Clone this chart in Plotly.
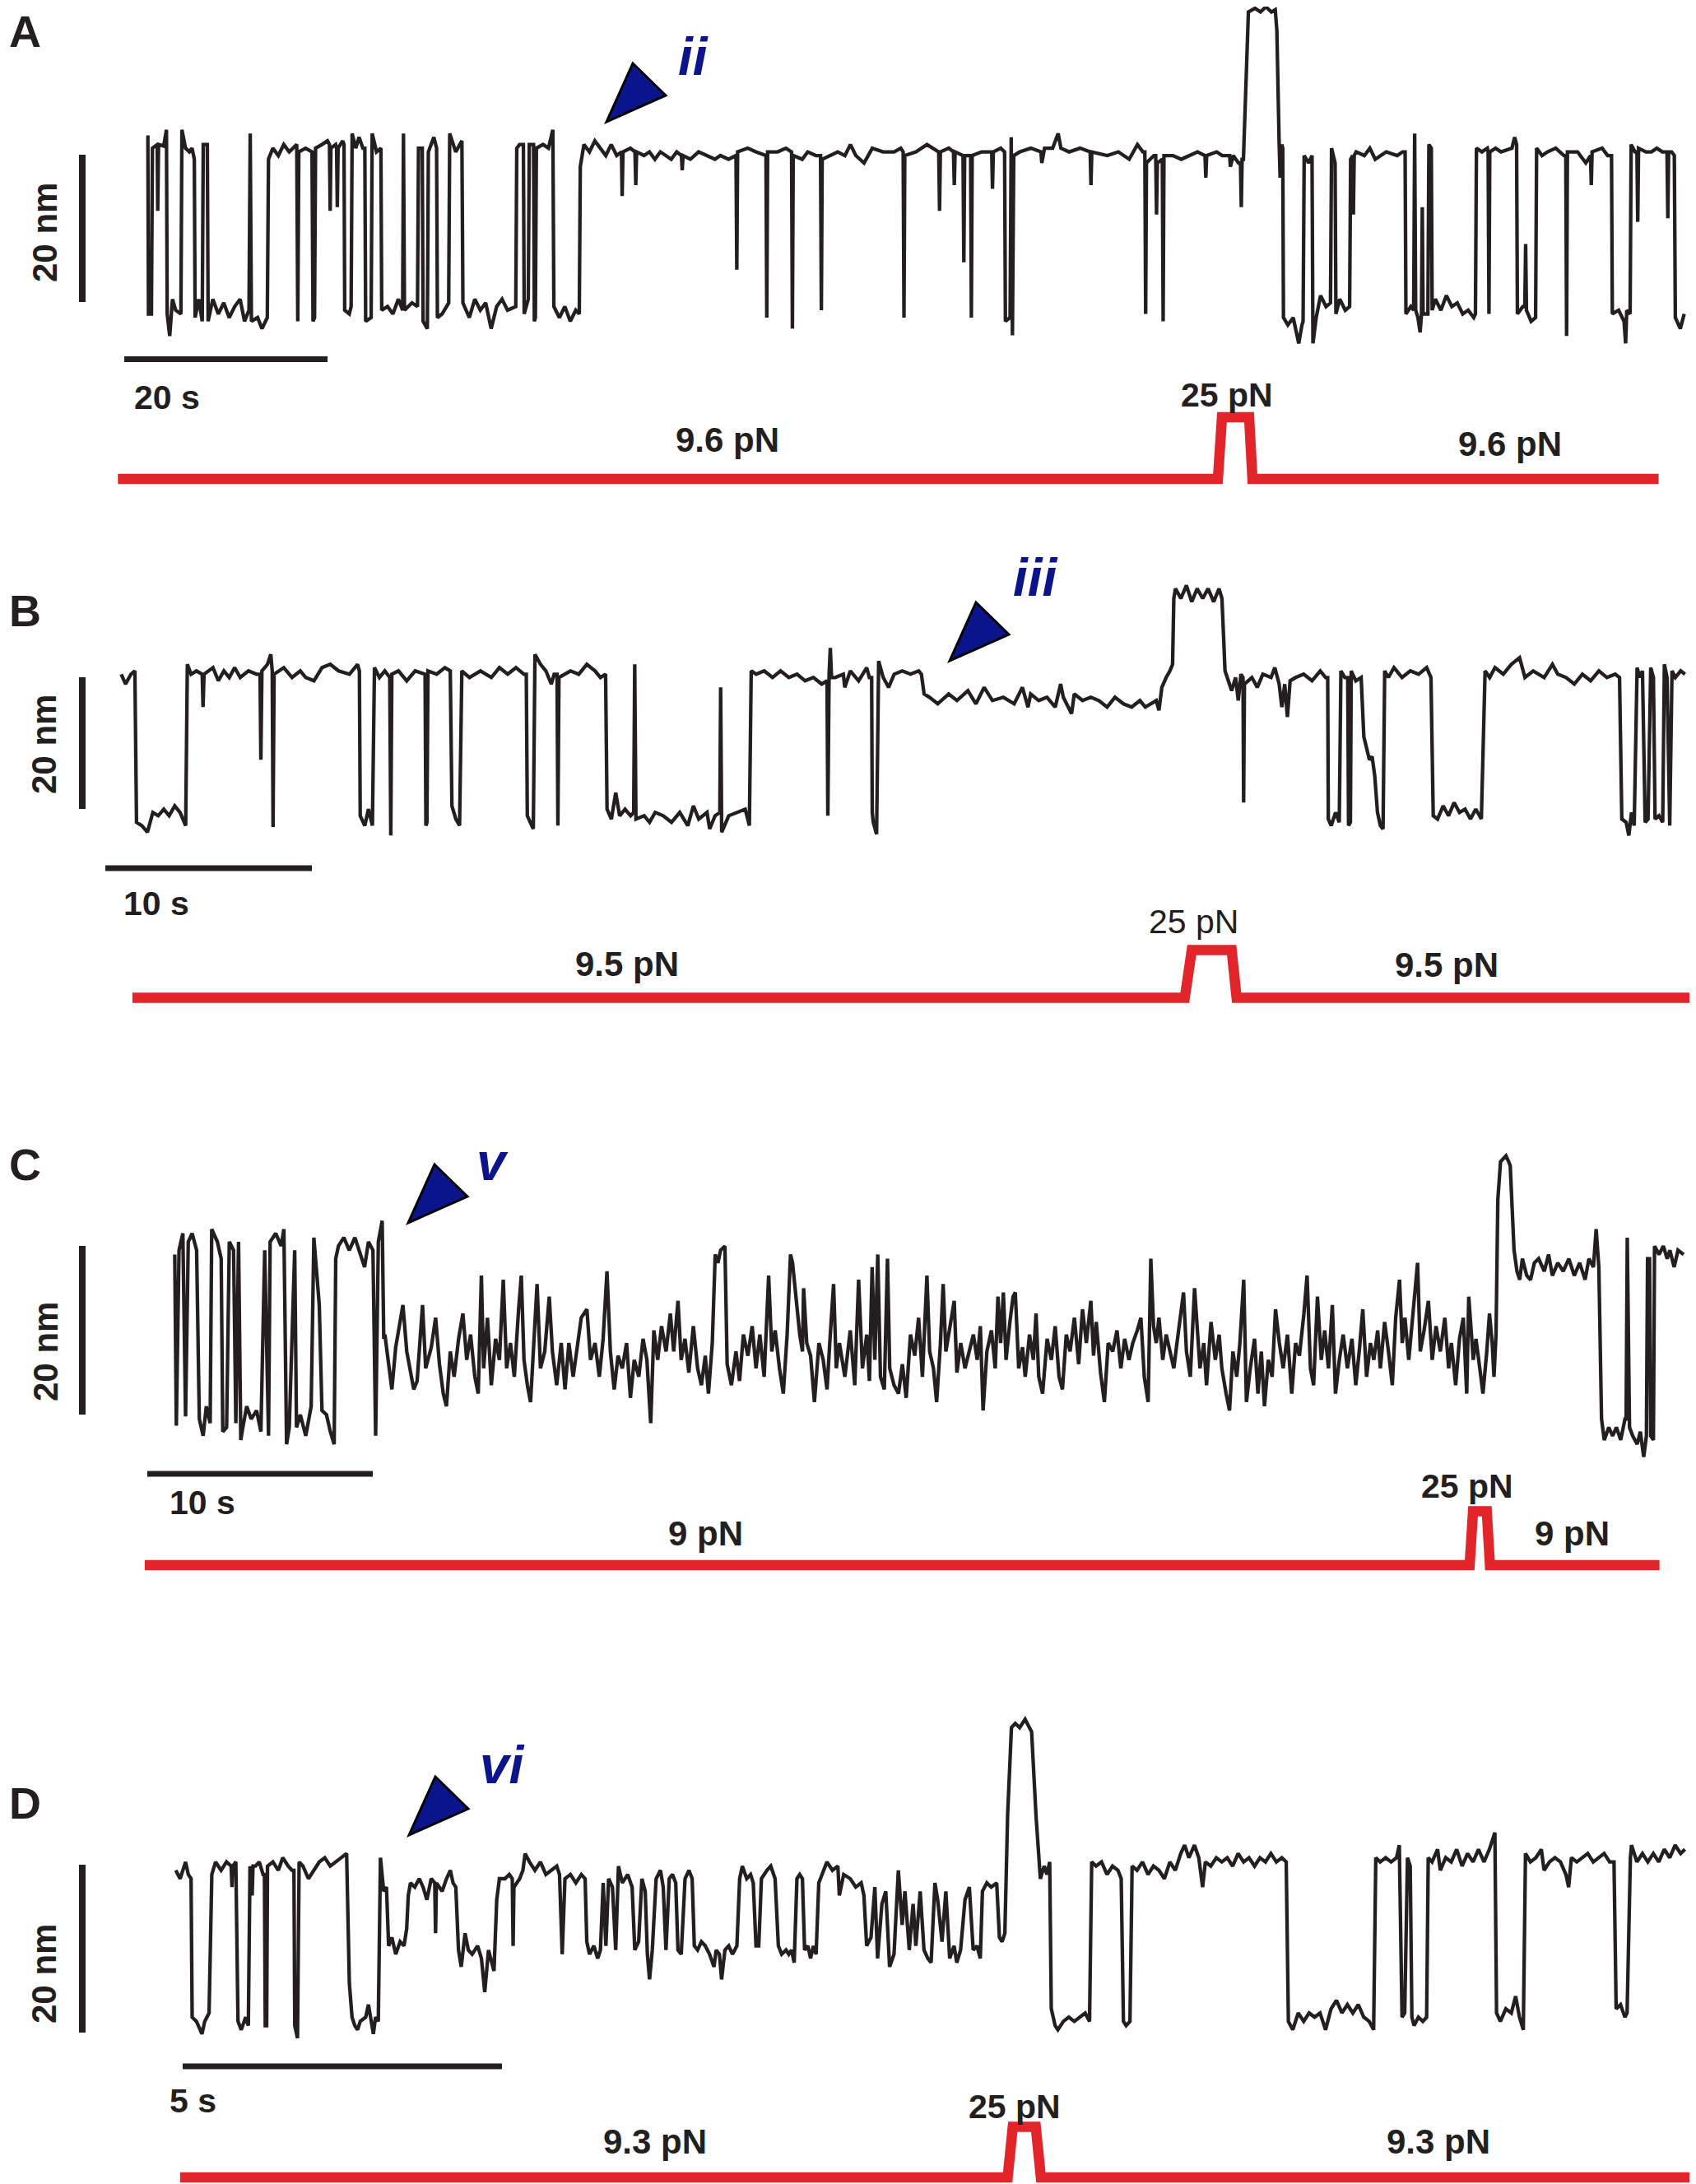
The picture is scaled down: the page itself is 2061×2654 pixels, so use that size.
import plotly.graph_objects as go

W, H = 2061, 2654
OFF = 8  # the page body margin shifts the figure by this many pixels
FONT = "Liberation Sans, Arial, Helvetica, sans-serif"
INK = "#231f20"
RED = "#e2252b"
NAVY = "#0c148c"

# extension traces: (time s, extension nm)
trace_a = [
    (14.39, 23.5), (14.55, 23.5), (14.61, -0.5), (14.90, -0.5), (15.00, 22.0), (15.47, 22.5), (15.52, 13.5),
    (15.60, 22.5), (16.11, 22.3), (16.38, 24.5), (16.45, -0.5), (16.70, -3.5), (16.97, 1.5), (17.29, 0.0),
    (17.80, -0.5), (17.90, 24.5), (18.26, 22.0), (18.63, 21.5), (18.90, 22.0), (19.12, 20.5), (19.20, -1.0),
    (19.55, 1.5), (19.90, -1.5), (20.00, 22.5), (20.40, 22.5), (20.48, -1.5), (20.94, 1.5), (21.48, -0.5),
    (22.02, 1.0), (22.55, -1.0), (23.09, 0.5), (23.63, 1.5), (24.06, -1.5), (24.50, 0.0), (24.62, 24.0),
    (24.74, -1.5), (25.35, -1.0), (25.78, -2.5), (26.30, -1.0), (26.42, 20.5), (26.85, 22.0), (27.39, 21.0),
    (27.92, 22.5), (28.46, 21.5), (29.20, 22.5), (29.30, -1.5), (29.40, 21.5), (30.07, 22.0), (30.70, 21.5),
    (30.80, -1.5), (30.95, -1.0), (31.05, 22.0), (31.68, 22.5), (32.22, 23.0), (32.42, 22.5), (32.49, 13.5),
    (32.56, 22.0), (33.03, 22.5), (33.12, 22.0), (33.19, 14.0), (33.27, 22.0), (33.72, 23.0), (33.85, 22.5),
    (33.92, 0.0), (34.37, -0.5), (34.55, 0.5), (34.65, 24.0), (35.01, 22.0), (35.33, 23.5), (35.71, 22.0),
    (35.90, 22.0), (35.98, -1.5), (36.52, -1.0), (36.62, 24.0), (37.05, 21.5), (37.48, 22.0), (37.56, 0.0),
    (38.13, 0.5), (38.66, -0.5), (39.20, 1.5), (39.62, 0.0), (39.70, 24.0), (39.80, 0.0), (40.54, 1.0),
    (41.08, 0.5), (41.18, 22.0), (41.55, 22.0), (41.63, -1.5), (42.05, -2.5), (42.15, 21.5), (42.69, 23.5),
    (42.96, 22.0), (43.04, -1.0), (43.50, -0.5), (44.15, 1.0), (44.25, 24.0), (44.84, 21.5), (45.45, 23.0),
    (45.55, 1.0), (46.18, -1.0), (46.72, 1.5), (47.26, 0.0), (47.79, 1.0), (48.33, -2.5), (48.87, 0.5),
    (49.40, 1.5), (49.94, 0.0), (50.75, 0.5), (50.85, 22.0), (51.12, 22.5), (51.50, 22.5), (51.58, -0.5),
    (51.98, 1.5), (52.08, 22.5), (52.50, 22.5), (52.58, -1.5), (52.68, -1.0), (52.78, 22.0), (53.43, 22.5),
    (53.97, 22.0), (54.40, 24.5), (54.50, 0.5), (55.04, -1.0), (55.58, 0.5), (56.12, -1.5), (56.65, 0.0),
    (57.00, -0.5), (57.10, 19.5), (57.46, 22.5), (58.00, 21.5), (58.53, 23.0), (59.07, 22.0), (59.61, 21.0),
    (60.14, 22.5), (60.68, 21.0), (61.15, 21.5), (61.22, 15.5), (61.30, 21.5), (62.02, 22.0), (62.48, 21.5),
    (62.56, 17.0), (62.64, 21.5), (63.37, 21.0), (63.90, 21.5), (64.44, 20.5), (64.98, 21.5), (65.51, 21.0),
    (66.05, 20.5), (66.59, 21.5), (67.05, 21.0), (67.13, 19.0), (67.21, 21.0), (67.93, 20.5), (68.74, 21.5),
    (69.54, 21.0), (70.35, 20.5), (70.88, 21.0), (71.69, 20.5), (72.42, 21.0), (72.50, 5.5), (72.58, 21.5),
    (73.57, 22.0), (74.37, 21.5), (75.18, 21.0), (75.37, 21.0), (75.45, -1.0), (75.53, 21.5), (76.52, 21.5),
    (77.33, 22.0), (77.89, 21.5), (77.97, -2.5), (78.05, 21.0), (78.94, 20.5), (79.48, 21.5), (80.28, 21.0),
    (80.74, 21.0), (80.82, 0.0), (80.90, 20.5), (81.62, 21.0), (82.43, 21.5),
    (83.14, 21.0), (83.68, 22.5), (84.21, 21.0), (85.02, 20.0), (85.83, 22.0), (86.90, 21.5), (87.98, 21.5),
    (88.63, 22.0), (88.87, 21.5), (88.95, -1.0), (89.03, 21.0), (90.13, 21.5), (91.21, 22.5), (92.37, 21.5),
    (92.45, 13.5), (92.53, 21.5), (93.36, 22.0), (93.82, 21.5), (93.90, 17.0), (93.98, 21.5), (94.76, 21.0),
    (94.84, 6.5), (94.92, 21.0), (95.51, 21.0), (95.58, -1.0), (95.66, 21.0), (96.59, 21.5), (97.58, 21.5),
    (97.66, 16.5), (97.74, 21.5), (98.47, 22.0), (98.85, 21.5), (98.93, -1.5), (99.39, -1.0), (99.50, 23.5),
    (99.62, -3.4), (99.75, 21.0), (100.35, 21.5), (101.43, 22.0), (102.43, 21.5), (102.51, 20.0), (102.78, 22.0),
    (103.58, 22.0), (104.12, 24.0), (104.39, 22.0), (105.20, 21.5), (106.27, 22.0), (107.27, 21.5), (107.35, 17.0),
    (107.43, 21.5), (108.96, 21.0), (110.04, 21.5), (111.11, 20.5), (111.92, 22.5), (112.46, 21.5), (112.65, 21.5),
    (112.73, -0.5), (112.81, 20.0), (113.54, 21.0), (113.72, 21.0), (113.80, 13.0), (113.88, 20.0), (114.37, 20.5),
    (114.45, -1.5), (114.53, 21.0), (115.42, 21.0), (116.23, 20.5), (117.03, 21.0), (117.84, 21.5), (118.57, 21.0),
    (118.65, 18.0), (118.73, 21.0), (119.72, 21.5), (120.26, 21.0), (120.99, 21.0), (121.07, 19.5), (121.34, 21.0),
    (121.87, 20.0), (122.06, 20.0), (122.14, 14.0), (122.22, 20.5), (122.35, 20.5), (122.47, 25.0), (122.84, 40.5),
    (123.49, 41.0), (124.03, 40.5), (124.56, 41.2), (125.10, 40.5), (125.48, 40.8), (125.64, 38.0), (125.86, 23.0),
    (125.96, 18.0), (126.12, 22.5), (126.22, 22.0), (126.29, -1.0), (126.72, -2.0), (127.25, -1.0), (127.79, -4.5),
    (128.11, -2.0), (128.22, -1.5), (128.33, 21.0), (128.76, 20.0), (129.10, 21.0), (129.19, -4.5), (129.51, -1.0),
    (129.94, 2.0), (130.48, 0.5), (130.92, 1.0), (131.02, 22.0), (131.29, 20.0), (131.37, 20.0), (131.45, -0.5),
    (131.83, 1.5), (132.37, 0.0), (132.80, 0.5), (132.90, 20.5), (133.10, 21.0), (133.17, 13.0), (133.25, 21.0),
    (133.44, 21.5), (134.25, 21.0), (134.79, 22.0), (135.32, 20.5), (136.40, 21.5), (137.48, 21.0), (138.01, 21.5),
    (138.26, 21.5), (138.34, -0.5), (138.82, 0.5), (139.10, 0.0), (139.20, 24.0), (139.30, 0.0), (139.52, -1.0),
    (139.74, -3.0), (139.87, -0.5), (139.95, 14.0), (140.03, -0.5), (140.50, -0.5), (140.60, 22.5), (140.84, 22.0),
    (140.92, 0.0), (141.24, 1.5), (141.78, 0.0), (142.32, 2.0), (142.86, 0.5), (143.39, 1.0), (143.93, -0.5),
    (144.47, 0.0), (145.01, -1.0), (145.18, -0.5), (145.28, 22.0), (145.82, 21.5), (146.35, 22.0), (146.43, 21.5),
    (146.51, -0.5), (146.59, 21.5), (147.16, 22.0), (147.70, 21.5), (148.77, 22.0), (149.04, 23.5), (149.23, 22.5),
    (149.31, -0.5), (149.85, 0.5), (150.04, 0.5), (150.12, 9.0), (150.20, 0.0), (150.66, -1.5), (151.10, -1.0),
    (151.20, 22.0), (151.73, 21.0), (152.27, 21.5), (153.08, 22.0), (153.89, 21.0), (154.07, 21.0), (154.15, -3.5),
    (154.23, 21.5), (155.23, 21.5), (156.04, 20.0), (156.50, 21.0), (156.58, 17.0), (156.66, 21.5), (157.65, 22.0),
    (158.19, 21.0), (158.57, 21.0), (158.65, -0.5), (159.27, 0.0), (159.80, -1.5), (159.96, -4.5), (160.07, 0.0),
    (160.40, -0.5), (160.50, 22.5), (160.88, 21.5), (161.07, 21.5), (161.15, 12.0), (161.23, 22.0), (161.96, 21.5),
    (162.49, 21.5), (163.03, 22.0), (163.57, 21.5), (164.03, 21.5), (164.11, 12.5), (164.19, 21.5), (164.48, 21.5),
    (164.75, 21.0), (164.85, -1.0), (165.34, -2.5), (165.72, -0.5),
]

trace_b = [
    (5.87, 21.5), (6.08, 20.0), (6.34, 21.5), (6.53, 22.0), (6.61, -1.0), (6.87, -1.5), (7.14, -2.5), (7.40, 0.5),
    (7.66, 0.0), (7.93, 1.0), (8.19, 0.0), (8.46, 1.5), (8.72, 0.5), (8.99, -1.5), (9.07, 23.0), (9.25, 21.5),
    (9.51, 22.0), (9.79, 21.5), (9.83, 16.5), (9.88, 21.5), (10.31, 22.5), (10.57, 20.5), (10.84, 22.0),
    (11.10, 21.0), (11.36, 22.5), (11.63, 21.0), (12.03, 22.0), (12.42, 21.5), (12.59, 21.5), (12.63, 8.5),
    (12.68, 22.0), (12.95, 23.0), (13.11, 24.5), (13.18, 22.0), (13.22, -1.7), (13.27, 21.5), (13.74, 22.5),
    (14.14, 21.0), (14.54, 22.0), (14.80, 21.0), (15.20, 20.5), (15.59, 22.5), (15.99, 23.0), (16.39, 22.0),
    (16.92, 21.5), (17.31, 23.0), (17.40, 22.0), (17.44, 0.0), (17.66, -1.5), (17.84, 1.0), (18.03, -1.5),
    (18.13, 22.5), (18.37, 21.0), (18.63, 22.0), (18.87, 21.0), (18.92, -3.0), (18.97, 21.5), (19.29, 22.0),
    (19.56, 21.0), (19.69, 20.5), (20.10, 22.0), (20.58, 21.5), (20.62, -1.5), (20.67, -1.0), (20.72, 22.0),
    (21.14, 21.5), (21.54, 22.5), (21.80, 22.0), (21.88, 1.5), (22.07, -0.5), (22.25, -1.5), (22.36, 22.0),
    (22.73, 21.0), (23.26, 22.0), (23.79, 21.0), (24.18, 22.5), (24.58, 21.5), (24.98, 22.5), (25.37, 21.5),
    (25.48, 21.5), (25.53, 0.0), (25.69, -1.0), (25.82, -2.0), (25.90, 24.5), (26.17, 23.0), (26.43, 22.0),
    (26.69, 20.0), (26.83, 21.5), (26.97, 21.5), (27.01, -1.5), (27.06, 21.0), (27.62, 22.0), (28.02, 21.5),
    (28.41, 23.0), (28.81, 22.0), (29.07, 21.0), (29.32, 21.5), (29.39, 1.0), (29.60, -0.5), (29.81, 3.5),
    (30.00, 0.0), (30.26, 1.0), (30.53, 0.0), (30.68, 0.5), (30.73, 23.0), (30.79, -0.5), (31.19, 0.0),
    (31.45, -1.0), (31.72, 0.5), (32.11, 0.0), (32.51, -1.0), (32.91, 0.5), (33.30, -1.5), (33.57, 1.5),
    (33.83, -0.5), (34.23, 0.5), (34.36, -2.0), (34.62, 0.0), (34.85, 0.5), (34.89, 19.5), (34.94, -2.5),
    (35.28, 0.0), (35.68, 0.5), (36.08, 1.0), (36.28, -1.5), (36.37, 22.0), (36.61, 21.5), (37.00, 22.0),
    (37.40, 21.0), (37.79, 22.0), (38.19, 21.0), (38.59, 21.5), (38.98, 20.5), (39.38, 21.0), (39.78, 20.0),
    (40.04, 20.5), (40.08, 0.0), (40.14, 21.5), (40.20, 25.5), (40.26, 21.0), (40.44, 21.0), (40.83, 21.5),
    (40.90, 19.5), (41.17, 22.0), (41.57, 20.5), (41.96, 22.5), (42.09, 21.0), (42.20, 21.0), (42.23, 0.5),
    (42.28, -1.0), (42.44, -2.8), (42.54, 23.5), (42.76, 21.0), (43.02, 19.5), (43.29, 21.5), (43.68, 22.0),
    (44.08, 21.5), (44.48, 22.0), (44.61, 21.5), (44.74, 18.5), (45.00, 18.0), (45.40, 17.0), (45.93, 18.5),
    (46.33, 17.5), (46.86, 19.0), (47.25, 17.0), (47.65, 19.5), (48.05, 17.5), (48.58, 18.0), (49.10, 17.0),
    (49.50, 19.5), (49.77, 16.5), (49.90, 18.5), (50.29, 17.5), (50.69, 18.0), (51.09, 16.5), (51.35, 20.0),
    (51.48, 18.0), (51.88, 15.5), (52.01, 18.5), (52.41, 17.5), (52.81, 18.0), (53.20, 17.5), (53.60, 16.5),
    (53.98, 18.0), (54.39, 17.0), (54.79, 16.5), (55.19, 17.5), (55.45, 16.5), (55.72, 17.0), (55.98, 17.5),
    (56.11, 16.0), (56.25, 19.5), (56.46, 21.0), (56.64, 22.0), (56.77, 23.0), (56.83, 33.0), (56.91, 34.5),
    (57.17, 33.0), (57.44, 35.0), (57.70, 32.5), (57.96, 34.5), (58.23, 33.0), (58.49, 34.5), (58.76, 32.5),
    (59.02, 34.5), (59.16, 33.0), (59.31, 22.0), (59.47, 20.5), (59.63, 19.0), (59.82, 21.0), (59.95, 17.5),
    (60.08, 21.5), (60.18, 21.0), (60.21, 2.0), (60.25, 20.0), (60.61, 21.0), (60.87, 19.5), (61.14, 21.5),
    (61.54, 21.0), (61.72, 22.5), (61.93, 20.0), (62.06, 16.5), (62.20, 20.0), (62.33, 15.0), (62.46, 20.5),
    (62.73, 21.0), (63.12, 21.5), (63.52, 20.5), (63.92, 22.0), (64.18, 21.0), (64.28, 21.0), (64.31, -0.5),
    (64.45, -1.5), (64.66, 0.5), (64.84, -1.0), (64.92, 22.0), (65.11, 21.0), (65.25, 21.0), (65.29, -1.5),
    (65.38, -1.0), (65.42, 22.0), (65.64, 20.5), (65.90, 21.0), (66.03, 12.0), (66.16, 10.0), (66.30, 8.5),
    (66.43, 9.0), (66.56, 6.0), (66.69, 0.5), (66.83, -1.5), (66.96, -2.0), (67.04, 22.0), (67.22, 21.0),
    (67.49, 22.5), (67.88, 21.0), (68.28, 22.0), (68.68, 21.5), (69.07, 22.5), (69.28, 21.0), (69.39, 0.0),
    (69.60, -0.5), (69.87, 1.5), (70.13, 0.0), (70.40, 2.0), (70.66, 0.5), (70.93, 1.0), (71.19, -0.5),
    (71.45, 1.0), (71.72, -0.5), (71.90, 22.0), (72.12, 21.0), (72.38, 22.5), (72.78, 21.5), (73.17, 23.0),
    (73.57, 24.0), (73.83, 21.0), (74.23, 22.0), (74.76, 21.0), (75.16, 23.0), (75.42, 21.5), (75.82, 21.0),
    (76.22, 20.0), (76.61, 21.5), (77.01, 20.5), (77.41, 22.0), (77.80, 21.0), (78.20, 21.5), (78.41, 21.0),
    (78.52, -0.5), (78.73, -1.0), (78.86, -3.0), (78.99, 0.5), (79.12, -1.5), (79.26, 22.5), (79.39, 21.0),
    (79.52, 22.0), (79.65, -1.0), (79.79, -0.5), (79.92, 22.5), (80.05, 21.0), (80.13, -0.5), (80.32, 0.0),
    (80.50, -1.0), (80.58, 23.0), (80.71, 21.0), (80.84, -1.5), (80.95, 22.0), (81.11, 21.0), (81.37, 22.0),
    (81.58, 21.5),
]

trace_c = [
    (7.75, 19.5), (7.82, -0.8), (7.94, 20.0), (8.11, 22.0), (8.23, 0.3), (8.35, 21.0), (8.52, 22.0), (8.72, 20.0),
    (8.84, 0.0), (9.01, -2.0), (9.15, 1.5), (9.32, -0.5), (9.39, 22.5), (9.64, 21.0), (9.81, 19.0), (9.88, -1.5),
    (10.05, -1.0), (10.17, 21.0), (10.36, 20.0), (10.46, -0.5), (10.58, 21.0), (10.68, -2.5), (10.77, -1.0),
    (10.94, 1.5), (11.14, 0.0), (11.38, 1.0), (11.57, -1.5), (11.74, 20.0), (11.91, -2.0), (11.98, 21.0),
    (12.23, 22.0), (12.47, 20.5), (12.59, 22.5), (12.71, -3.0), (12.83, -1.0), (13.07, 20.0), (13.15, -1.0),
    (13.32, 0.5), (13.56, -2.0), (13.80, 1.5), (13.92, 21.5), (14.04, 17.0), (14.16, 13.5), (14.28, 1.0),
    (14.48, 0.5), (14.65, -1.5), (14.82, -3.0), (14.89, 19.0), (15.01, 20.5), (15.25, 21.5), (15.49, 20.0),
    (15.74, 21.5), (15.98, 19.5), (16.17, 18.0), (16.34, 21.0), (16.54, 20.0), (16.66, -2.0), (16.78, 21.0),
    (16.95, 23.5), (17.02, 9.5), (17.07, 10.0), (17.24, 6.0), (17.38, 3.5), (17.55, 8.5), (17.72, 11.5),
    (17.87, 13.5), (18.04, 8.0), (18.21, 5.5), (18.35, 3.5), (18.50, 4.5), (18.64, 10.5), (18.74, 13.5),
    (18.88, 6.0), (19.13, 8.5), (19.32, 12.0), (19.49, 6.5), (19.66, 3.0), (19.80, 1.5), (19.97, 8.0),
    (20.14, 5.0), (20.34, 9.5), (20.53, 12.5), (20.70, 7.0), (20.87, 10.0), (21.06, 5.0), (21.21, 3.0),
    (21.35, 17.0), (21.45, 6.0), (21.62, 12.0), (21.79, 4.0), (21.98, 9.5), (22.15, 7.0), (22.32, 16.5),
    (22.47, 6.0), (22.64, 9.0), (22.81, 5.0), (23.00, 13.0), (23.12, 17.0), (23.24, 7.0), (23.39, 4.0),
    (23.53, 2.0), (23.68, 9.5), (23.82, 16.0), (23.97, 6.0), (24.16, 8.0), (24.36, 14.5), (24.50, 8.0),
    (24.69, 4.0), (24.89, 9.0), (25.06, 3.5), (25.23, 9.0), (25.42, 5.0), (25.61, 8.5), (25.78, 12.0),
    (26.03, 13.0), (26.19, 7.0), (26.39, 9.0), (26.58, 5.0), (26.75, 9.5), (26.92, 17.5), (27.07, 8.0),
    (27.24, 3.5), (27.41, 7.5), (27.60, 6.0), (27.79, 9.0), (27.96, 2.5), (28.13, 7.0), (28.33, 5.0),
    (28.52, 9.5), (28.69, 7.0), (28.86, -0.5), (29.00, 10.5), (29.17, 7.0), (29.34, 11.0), (29.54, 8.0),
    (29.73, 12.5), (29.88, 8.0), (30.07, 14.0), (30.21, 7.0), (30.38, 9.5), (30.55, 5.5), (30.75, 11.0),
    (30.94, 6.0), (31.11, 4.0), (31.28, 7.5), (31.42, 3.0), (31.59, 9.0), (31.72, 19.5), (31.84, 18.5),
    (31.96, 20.0), (32.15, 20.5), (32.25, 6.5), (32.44, 4.0), (32.64, 8.0), (32.80, 4.5), (32.97, 10.0),
    (33.17, 7.5), (33.36, 11.0), (33.53, 6.0), (33.70, 10.0), (33.89, 5.0), (34.09, 17.0), (34.23, 8.0),
    (34.38, 10.5), (34.57, 6.0), (34.74, 3.0), (34.91, 10.0), (35.06, 19.5), (35.15, 18.5), (35.30, 14.0),
    (35.47, 10.0), (35.59, 8.0), (35.64, 15.5), (35.78, 9.0), (35.95, 7.5), (36.12, 2.0), (36.32, 9.0),
    (36.51, 7.0), (36.68, 3.5), (36.80, 9.0), (36.97, 16.0), (37.09, 6.0),
    (37.23, 9.0), (37.47, 5.0), (37.71, 10.5), (37.91, 4.0), (38.08, 16.5), (38.25, 6.0), (38.44, 10.0),
    (38.56, 4.5), (38.68, 18.0), (38.80, 7.0), (38.93, 19.5), (39.05, 5.0), (39.22, 3.5), (39.36, 19.0),
    (39.46, 6.0), (39.65, 4.0), (39.85, 3.0), (40.02, 6.5), (40.19, 2.5), (40.38, 10.0), (40.57, 7.5),
    (40.74, 12.0), (40.91, 5.0), (41.11, 17.0), (41.23, 8.0), (41.40, 6.0), (41.54, 2.0), (41.71, 9.0),
    (41.83, 16.0), (41.95, 8.0), (42.12, 11.0), (42.27, 13.0), (42.32, 14.0), (42.44, 5.5), (42.61, 9.0),
    (42.80, 6.0), (43.00, 8.0), (43.17, 10.0), (43.34, 7.0), (43.48, 11.0), (43.60, 1.0), (43.77, 8.0),
    (43.97, 10.5), (44.14, 6.0), (44.26, 14.5), (44.38, 9.0), (44.50, 15.0), (44.62, 7.0), (44.79, 11.5),
    (44.93, 14.5), (45.03, 15.0), (45.18, 6.0), (45.35, 8.5), (45.47, 5.0), (45.66, 10.0), (45.83, 7.0),
    (45.95, 12.5), (46.07, 5.0), (46.24, 3.0), (46.44, 9.5), (46.63, 7.0), (46.80, 11.0), (46.97, 5.0),
    (47.12, 3.5), (47.29, 10.0), (47.46, 8.0), (47.65, 12.0), (47.84, 6.5), (48.01, 13.0), (48.18, 9.0),
    (48.38, 14.0), (48.50, 7.5), (48.62, 11.5), (48.81, 5.5), (48.98, 2.0), (49.15, 9.0), (49.35, 8.0),
    (49.54, 10.5), (49.71, 6.0), (49.88, 9.5), (50.07, 7.0), (50.24, 9.0), (50.44, 10.5), (50.60, 12.0),
    (50.75, 5.0), (50.92, 2.0), (51.04, 19.0), (51.16, 11.0), (51.28, 9.0), (51.40, 12.0), (51.57, 7.0),
    (51.72, 10.0), (51.89, 8.0), (52.06, 6.0), (52.20, 9.0), (52.37, 12.5), (52.49, 15.0), (52.62, 8.0),
    (52.79, 5.0), (52.98, 15.5), (53.22, 6.0), (53.39, 9.0), (53.51, 4.0), (53.71, 11.5), (53.90, 7.0),
    (54.07, 10.0), (54.19, 6.0), (54.38, 3.0), (54.53, 1.0), (54.68, 8.0), (54.85, 5.0), (54.99, 9.0),
    (55.16, 16.5), (55.28, 2.0), (55.45, 6.0), (55.64, 9.5), (55.79, 3.0), (55.94, 8.0), (56.08, 1.5),
    (56.25, 7.0), (56.42, 5.0), (56.57, 13.0), (56.74, 9.0), (56.91, 6.0), (57.10, 10.0), (57.29, 3.0),
    (57.46, 9.0), (57.63, 7.5), (57.83, 12.5), (57.97, 17.0), (58.12, 6.0), (58.26, 4.0), (58.43, 14.5),
    (58.60, 7.0), (58.75, 10.5), (58.92, 6.0), (59.09, 13.5), (59.23, 3.0), (59.40, 7.0), (59.57, 10.0),
    (59.76, 6.0), (59.96, 9.5), (60.13, 4.0), (60.30, 8.5), (60.44, 13.0), (60.61, 5.0), (60.78, 9.0),
    (60.93, 7.0), (61.10, 10.5), (61.22, 6.0), (61.41, 11.5), (61.58, 8.0), (61.75, 4.0), (61.90, 12.0),
    (62.07, 16.5), (62.19, 9.0), (62.31, 12.0), (62.48, 7.0), (62.67, 13.0), (62.87, 18.5), (62.99, 8.0),
    (63.16, 10.5), (63.35, 14.0), (63.52, 7.0), (63.69, 11.0), (63.88, 8.0), (64.08, 12.0), (64.25, 6.0),
    (64.37, 9.0), (64.56, 4.0), (64.73, 9.5), (64.90, 12.0), (65.05, 3.0), (65.14, 14.5), (65.34, 7.0),
    (65.46, 9.5), (65.63, 6.0), (65.77, 3.0), (65.94, 8.0), (66.06, 12.5), (66.18, 9.0), (66.26, 5.0),
    (66.35, 10.0), (66.43, 26.0), (66.55, 30.5), (66.67, 30.8), (66.79, 31.2), (66.91, 30.5), (66.98, 30.0),
    (67.15, 20.0), (67.28, 17.5), (67.40, 16.5), (67.52, 19.0), (67.71, 17.0), (67.88, 16.5), (68.05, 18.5),
    (68.24, 19.0), (68.49, 17.5), (68.68, 19.5), (68.85, 17.0), (69.09, 18.5), (69.33, 17.5), (69.58, 19.0),
    (69.82, 17.0), (70.06, 18.5), (70.30, 16.5), (70.47, 19.0), (70.67, 18.0), (70.79, 22.5), (70.91, 18.0),
    (71.03, 0.0), (71.15, -2.5), (71.35, -1.0), (71.52, -2.0), (71.69, -1.0), (71.88, -2.5), (72.07, 0.0),
    (72.12, 0.0), (72.17, 21.5), (72.27, -1.0), (72.41, -2.0), (72.61, -3.0), (72.75, -1.5), (72.90, -4.5),
    (73.02, -2.0), (73.07, 19.0), (73.16, 19.0), (73.21, -2.0), (73.33, -2.5), (73.38, 20.5), (73.58, 19.5),
    (73.77, 20.5), (73.94, 19.0), (74.06, 20.0), (74.25, 18.0), (74.42, 20.0), (74.67, 19.5),
]

trace_d = [
    (2.752, 18.5), (2.821, 17.5), (2.906, 19.5), (2.949, 18.0), (2.992, 17.5), (3.009, 1.0), (3.077, 0.5),
    (3.163, -1.0), (3.206, 0.5), (3.274, 1.5), (3.317, 18.0), (3.376, 19.5), (3.462, 18.5), (3.547, 19.5),
    (3.620, 19.0), (3.633, 16.5), (3.646, 19.0), (3.693, 19.5), (3.727, 0.5), (3.778, -0.5), (3.847, 1.0),
    (3.889, 0.0), (3.915, 19.0), (3.949, 15.5), (3.962, 19.0), (4.000, 19.0), (4.060, 19.5), (4.120, 18.0),
    (4.141, 18.0), (4.154, 0.0), (4.176, 0.0), (4.189, 19.0), (4.274, 19.5), (4.359, 18.5), (4.428, 20.0),
    (4.513, 19.0), (4.573, 18.5), (4.603, 18.5), (4.616, 0.0), (4.659, -1.5), (4.684, 19.5), (4.744, 19.0),
    (4.830, 17.5), (4.915, 18.5), (5.001, 19.5), (5.086, 20.0), (5.172, 19.0), (5.257, 19.5), (5.343, 20.0),
    (5.428, 20.5), (5.471, 5.0), (5.513, 1.0), (5.556, 0.0), (5.599, -0.5), (5.642, 0.5), (5.727, 1.0),
    (5.770, 2.5), (5.813, 0.5), (5.847, -1.0), (5.881, 1.0), (5.924, 0.5), (5.958, 20.0), (6.009, 16.0),
    (6.052, 16.5), (6.086, 9.5), (6.137, 10.5), (6.197, 8.5), (6.266, 10.0), (6.326, 9.5), (6.368, 11.5),
    (6.394, 15.5), (6.428, 17.0), (6.496, 16.5), (6.565, 17.5), (6.625, 16.5), (6.685, 15.0), (6.753, 17.5),
    (6.808, 17.0), (6.821, 11.0), (6.834, 17.0), (6.924, 16.0), (6.992, 17.5), (7.052, 18.5), (7.095, 17.0),
    (7.138, 16.5), (7.180, 9.0), (7.223, 7.0), (7.283, 11.0), (7.334, 9.0), (7.394, 8.5), (7.480, 9.5),
    (7.539, 8.0), (7.591, 4.0), (7.650, 9.0), (7.736, 6.5), (7.779, 15.0), (7.821, 17.5), (7.907, 17.5),
    (7.975, 18.0), (8.022, 17.5), (8.035, 9.5), (8.048, 16.5), (8.138, 17.5), (8.189, 18.5), (8.223, 20.5),
    (8.292, 19.5), (8.377, 18.5), (8.463, 19.5), (8.548, 18.0), (8.633, 18.5), (8.719, 19.0), (8.762, 18.0),
    (8.804, 8.5), (8.847, 17.5), (8.933, 18.0), (9.018, 17.0), (9.104, 18.0), (9.163, 17.5), (9.189, 10.0),
    (9.232, 8.5), (9.300, 9.5), (9.360, 8.0), (9.403, 9.0), (9.446, 17.0), (9.488, 9.5), (9.531, 17.5),
    (9.591, 16.5), (9.642, 9.0), (9.685, 19.0), (9.745, 17.0), (9.830, 18.0), (9.899, 16.5), (9.941, 9.0),
    (10.001, 10.0), (10.052, 17.5), (10.104, 16.0), (10.138, 8.5), (10.172, 5.5), (10.215, 9.0), (10.275, 17.5),
    (10.343, 18.5), (10.386, 16.5), (10.429, 9.0), (10.480, 17.5), (10.531, 18.0), (10.582, 17.0), (10.617, 9.0),
    (10.668, 8.5), (10.728, 17.5), (10.788, 18.5), (10.839, 17.5), (10.873, 9.5), (10.924, 9.0), (10.984, 10.0),
    (11.044, 9.5), (11.112, 8.5), (11.181, 7.0), (11.215, 9.0), (11.266, 8.5), (11.300, 5.5), (11.352, 9.0),
    (11.412, 9.5), (11.471, 8.5), (11.540, 9.5), (11.583, 17.5), (11.625, 19.0), (11.694, 17.5), (11.754, 18.0),
    (11.796, 17.0), (11.839, 9.5), (11.882, 9.5), (11.924, 17.5), (12.010, 18.5), (12.070, 19.0), (12.138, 17.5),
    (12.189, 9.5), (12.241, 8.5), (12.309, 9.0), (12.352, 8.5), (12.395, 9.0), (12.437, 7.5), (12.480, 17.5),
    (12.523, 18.0), (12.566, 17.5), (12.600, 9.0), (12.651, 9.5), (12.694, 8.0), (12.737, 9.5), (12.780, 8.5),
    (12.822, 17.0), (12.891, 18.5), (12.950, 19.5), (13.036, 18.5), (13.121, 19.0),
    (13.144, 15.5), (13.212, 18.0), (13.315, 17.5), (13.401, 16.5), (13.486, 17.0), (13.529, 15.5), (13.572, 9.5),
    (13.640, 10.5), (13.700, 16.5), (13.743, 8.0), (13.811, 14.5), (13.871, 16.0), (13.931, 7.0), (14.000, 8.5),
    (14.068, 18.5), (14.128, 12.0), (14.171, 16.0), (14.239, 9.0), (14.299, 14.5), (14.342, 9.5), (14.410, 16.0),
    (14.470, 9.0), (14.530, 8.0), (14.581, 7.5), (14.641, 17.0), (14.684, 15.0), (14.752, 10.0), (14.812, 16.0),
    (14.872, 8.0), (14.941, 9.5), (14.983, 7.5), (15.043, 9.0), (15.112, 15.0), (15.180, 16.5), (15.240, 9.0),
    (15.300, 9.5), (15.351, 8.0), (15.385, 16.0), (15.454, 17.0), (15.522, 16.5), (15.608, 17.0), (15.651, 10.5),
    (15.693, 10.0), (15.736, 11.0), (15.779, 25.0), (15.839, 35.5), (15.899, 36.0), (15.967, 35.5), (16.053, 36.5),
    (16.121, 35.5), (16.155, 35.0), (16.224, 25.0), (16.267, 20.0), (16.292, 17.5), (16.352, 19.0), (16.395, 18.0),
    (16.438, 19.5), (16.463, 2.0), (16.523, 0.0), (16.566, -0.5), (16.652, 0.5), (16.737, 1.0), (16.823, 0.5),
    (16.908, 1.0), (16.994, 1.5), (17.062, 0.5), (17.096, 19.5), (17.165, 19.0), (17.250, 19.5), (17.336, 18.0),
    (17.422, 19.0), (17.507, 18.5), (17.558, 17.5), (17.593, 0.5), (17.635, 0.0), (17.695, 0.5), (17.729, 19.0),
    (17.806, 18.5), (17.892, 19.5), (17.978, 18.0), (18.063, 19.0), (18.149, 18.5), (18.234, 17.5), (18.320, 19.5),
    (18.405, 18.5), (18.491, 20.5), (18.551, 21.5), (18.619, 20.0), (18.705, 21.5), (18.773, 20.0), (18.833, 16.5),
    (18.876, 19.5), (18.961, 19.0), (19.047, 20.0), (19.133, 19.5), (19.218, 20.0), (19.304, 19.0), (19.389, 20.5),
    (19.475, 19.5), (19.560, 20.0), (19.646, 19.0), (19.731, 20.0), (19.817, 19.5), (19.902, 20.5), (19.988, 19.5),
    (20.074, 20.0), (20.142, 19.5), (20.176, 0.5), (20.245, -0.5), (20.330, 1.5), (20.416, 0.5), (20.501, 1.5),
    (20.587, 1.0), (20.672, 1.5), (20.758, -0.5), (20.844, 2.0), (20.929, 3.0), (21.015, 1.5), (21.100, 2.5),
    (21.186, 1.5), (21.271, 2.5), (21.357, 1.0), (21.442, 0.5), (21.511, -0.5), (21.545, 20.0), (21.613, 19.5),
    (21.699, 20.0), (21.785, 19.5), (21.870, 20.0), (21.913, 21.5), (21.956, 1.0), (21.998, 1.5), (22.041, 20.0),
    (22.084, 19.0), (22.110, 1.0), (22.144, 0.0), (22.212, 1.0), (22.281, 0.5), (22.341, 1.0), (22.366, 20.0),
    (22.426, 19.5), (22.512, 21.0), (22.555, 18.5), (22.640, 20.0), (22.726, 19.5), (22.811, 21.0), (22.897, 19.0),
    (22.982, 20.5), (23.068, 19.5), (23.153, 21.0), (23.239, 19.5), (23.324, 21.0), (23.410, 23.0), (23.436, 1.5),
    (23.496, 0.5), (23.581, 2.0), (23.667, 1.5), (23.735, 3.5), (23.795, 1.0), (23.855, -0.5), (23.889, 20.5),
    (23.966, 19.5), (24.052, 20.0), (24.137, 21.0), (24.180, 18.5), (24.266, 19.5), (24.351, 20.0), (24.437, 19.5),
    (24.522, 18.0), (24.565, 16.5), (24.608, 20.0), (24.693, 19.5), (24.779, 20.0), (24.864, 20.5), (24.950, 19.5),
    (25.035, 20.0), (25.121, 20.5), (25.207, 19.5), (25.275, 19.5), (25.309, 2.0), (25.378, 2.5), (25.446, 1.0),
    (25.480, 1.5), (25.532, 20.0), (25.549, 21.5), (25.634, 19.5), (25.720, 20.5), (25.805, 19.5), (25.891, 20.5),
    (25.976, 19.5), (26.062, 21.0), (26.148, 20.0), (26.233, 21.5), (26.319, 20.5), (26.387, 21.0),
]

# applied force protocol (time s, force pN)
force_a_t = [11.6, 119.84, 120.24, 122.91, 123.24, 163.2]
force_a = [9.6, 9.6, 25, 25, 9.6, 9.6]
force_b_t = [6.41, 57.36, 57.70, 59.63, 59.87, 82.6]
force_b = [9.5, 9.5, 25, 25, 9.5, 9.5]
force_c_t = [6.42, 65.18, 65.33, 65.94, 66.08, 73.6]
force_c = [9, 9, 25, 25, 9, 9]
force_d_t = [2.82, 15.78, 15.86, 16.22, 16.30, 27.0]
force_d = [9.3, 9.3, 25, 25, 9.3, 9.3]

# page layout, in pixels of the 2061 x 2654 sheet
panels = [
    dict(letter="A", tag="ii", trace=trace_a, ft=force_a_t, f=force_a, bar_s=20,
         pps=12.35, ppn=8.95, zero_y=377.0, f_base_y=582.0, f_top_y=507.0,
         hbar=(151, 436.5), vbar=(100, 367), letter_xy=(9, 38), tag_xy=(842, 69), tip=(737, 148),
         bar_lbl=(203, 483), nm_lbl=(55, 283), base_lbl=[(884, 534), (1835, 540)],
         pulse_lbl=(1491, 480), pulse_bold=True),
    dict(letter="B", tag="iii", trace=trace_b, ft=force_b_t, f=force_b, bar_s=10,
         pps=25.1, ppn=8.0, zero_y=991.3, f_base_y=1212.6, f_top_y=1154.5,
         hbar=(128, 1055), vbar=(100, 983), letter_xy=(9, 742), tag_xy=(1258, 702), tip=(1154, 803),
         bar_lbl=(190, 1098), nm_lbl=(53, 905), base_lbl=[(762, 1171), (1758, 1173)],
         pulse_lbl=(1450, 1120), pulse_bold=False),
    dict(letter="C", tag="v", trace=trace_c, ft=force_c_t, f=force_c, bar_s=10,
         pps=27.4, ppn=10.25, zero_y=1724.3, f_base_y=1902.0, f_top_y=1836.5,
         hbar=(179, 1791), vbar=(100, 1719), letter_xy=(9, 1415), tag_xy=(598, 1412), tip=(496, 1486),
         bar_lbl=(246, 1826), nm_lbl=(55, 1643), base_lbl=[(857, 1863), (1910, 1863)],
         pulse_lbl=(1783, 1806), pulse_bold=True),
    dict(letter="D", tag="vi", trace=trace_d, ft=force_d_t, f=force_d, bar_s=5,
         pps=77.6, ppn=10.2, zero_y=2461.5, f_base_y=2646.0, f_top_y=2584.5,
         hbar=(222, 2511), vbar=(100, 2470), letter_xy=(9, 2191), tag_xy=(610, 2145), tip=(497, 2230),
         bar_lbl=(234, 2553), nm_lbl=(53, 2399), base_lbl=[(796, 2602), (1748, 2602)],
         pulse_lbl=(1233, 2560), pulse_bold=True),
]

ARROW = [(0, 0), (32, -71), (72, -32)]


def px(x, y):
    return (x - OFF) / W, 1 - (y - OFF) / H


def label(text, xy, size, color=INK, angle=0, anchor="center"):
    x, y = px(*xy)
    return dict(x=x, y=y, xref="paper", yref="paper", text=text, showarrow=False,
                xanchor=anchor, yanchor="middle", textangle=angle,
                font=dict(family=FONT, size=size, color=color))


fig = go.Figure()
layout = dict(width=W, height=H, margin=dict(l=0, r=0, t=0, b=0), showlegend=False,
              paper_bgcolor="white", plot_bgcolor="white")
annotations, shapes = [], []

for i, p in enumerate(panels, start=1):
    xa = "x" if i == 1 else f"x{i}"
    ya = "y" if i == 1 else f"y{2 * i - 1}"
    yf = f"y{2 * i}"
    pps, ppn, z0 = p["pps"], p["ppn"], p["zero_y"]
    f0, f1 = p["f"][0], max(p["f"])
    fb = p["f_base_y"]
    ppf = (fb - p["f_top_y"]) / (f1 - f0)

    xk = "xaxis" if i == 1 else f"xaxis{i}"
    layout[xk] = dict(range=[OFF / pps, (W + OFF) / pps], domain=[0, 1], visible=False,
                      fixedrange=True, anchor=ya)
    yk = "yaxis" if i == 1 else f"yaxis{2 * i - 1}"
    layout[yk] = dict(range=[(z0 - H - OFF) / ppn, (z0 - OFF) / ppn], domain=[0, 1], visible=False,
                      fixedrange=True, anchor=xa)
    layout[f"yaxis{2 * i}"] = dict(range=[f0 + (fb - H - OFF) / ppf, f0 + (fb - OFF) / ppf],
                                   domain=[0, 1], visible=False, fixedrange=True, anchor=xa,
                                   overlaying="y")
    if i > 1:
        layout[xk]["overlaying"] = "x"
        layout[yk]["overlaying"] = "y"

    t, z = zip(*p["trace"])
    fig.add_trace(go.Scatter(x=t, y=z, xaxis=xa, yaxis=ya, mode="lines",
                             line=dict(color=INK, width=4.3), hoverinfo="skip"))
    fig.add_trace(go.Scatter(x=p["ft"], y=p["f"], xaxis=xa, yaxis=yf, mode="lines",
                             line=dict(color=RED, width=12.5), hoverinfo="skip"))

    # scale bars: bar_s seconds and 20 nm, in the trace's own units
    tb = p["hbar"][0] / pps
    zb = (z0 - p["hbar"][1]) / ppn
    fig.add_trace(go.Scatter(x=[tb, tb + p["bar_s"]], y=[zb, zb], xaxis=xa, yaxis=ya, mode="lines",
                             line=dict(color=INK, width=7), hoverinfo="skip"))
    tv = p["vbar"][0] / pps
    zv = (z0 - p["vbar"][1]) / ppn
    fig.add_trace(go.Scatter(x=[tv, tv], y=[zv, zv + 20], xaxis=xa, yaxis=ya, mode="lines",
                             line=dict(color=INK, width=8), hoverinfo="skip"))

    annotations.append(label(f"<b>{p['letter']}</b>", p["letter_xy"], 54, anchor="left"))
    annotations.append(label(f"<b><i>{p['tag']}</i></b>", p["tag_xy"], 64, color=NAVY))
    annotations.append(label(f"<b>{p['bar_s']} s</b>", p["bar_lbl"], 41))
    annotations.append(label("<b>20 nm</b>", p["nm_lbl"], 42, angle=-90))
    for xy in p["base_lbl"]:
        annotations.append(label(f"<b>{f0:g} pN</b>", xy, 42))
    pulse_txt = f"{f1:g} pN"
    annotations.append(label(f"<b>{pulse_txt}</b>" if p["pulse_bold"] else pulse_txt, p["pulse_lbl"], 41))

    pts = [px(p["tip"][0] + dx, p["tip"][1] + dy) for dx, dy in ARROW]
    path = "M{:.5f},{:.5f} L{:.5f},{:.5f} L{:.5f},{:.5f} Z".format(*[c for pt in pts for c in pt])
    shapes.append(dict(type="path", xref="paper", yref="paper", path=path, fillcolor=NAVY,
                       line=dict(color="black", width=3)))

layout["annotations"] = annotations
layout["shapes"] = shapes
fig.update_layout(**layout)
fig.write_html("out.html")
